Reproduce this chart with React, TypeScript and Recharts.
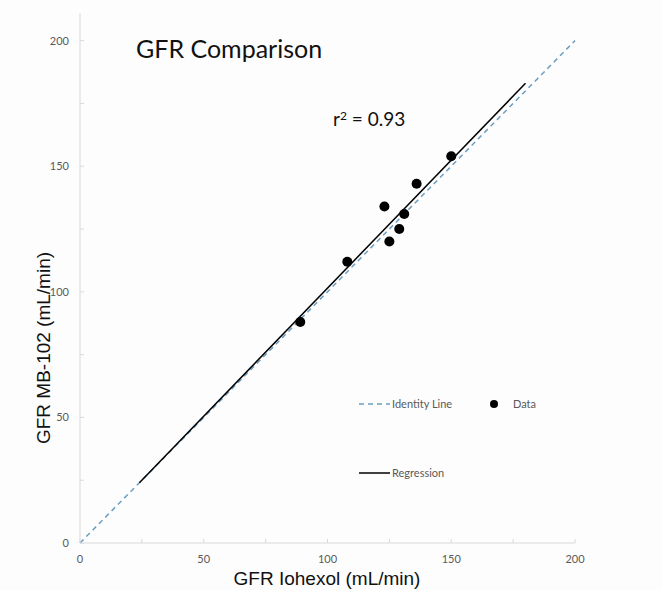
import { ComposedChart, Scatter, XAxis, YAxis, Legend } from 'recharts'

const tickValues = [0, 25, 50, 75, 100, 125, 150, 175, 200]
const iohexol = [89, 108, 123, 125, 129, 131, 136, 150]
const mb102 = [88, 112, 134, 120, 125, 131, 143, 154]
const identityX = [0, 200]
const identityY = [0, 200]
const regressionX = [24, 180]
const regressionY = [24, 183]

const zip = (xs: number[], ys: number[]) => xs.map((x, i) => ({ x, y: ys[i] }))
const points = zip(iohexol, mb102)
const identity = zip(identityX, identityY)
const regression = zip(regressionX, regressionY)

const AXIS = '#d9d9d9'
const TICK_TEXT = '#595959'
const IDENTITY = '#6b9ec0'
const SANS = 'Lato, "Open Sans", sans-serif'
const ARIAL = '"Liberation Sans", Arial, sans-serif'

function XTick({ x, y, payload }: any) {
  const v = payload.value
  return (
    <g>
      <line x1={x} y1={y} x2={x} y2={y - 4} stroke={AXIS} />
      {v % 50 === 0 && (
        <text x={x} y={y + 20} textAnchor="middle" fontSize={11} fill={TICK_TEXT} fontFamily={SANS}>
          {v}
        </text>
      )}
    </g>
  )
}

function YTick({ x, y, payload }: any) {
  const v = payload.value
  return (
    <g>
      <line x1={x} y1={y} x2={x + 4} y2={y} stroke={AXIS} />
      {v % 50 === 0 && (
        <text x={x - 11} y={y + 4} textAnchor="end" fontSize={11} fill={TICK_TEXT} fontFamily={SANS}>
          {v}
        </text>
      )}
    </g>
  )
}

const noDot = () => <g />
const blackDot = (p: any) => <circle cx={p.cx} cy={p.cy} r={5} fill="#000" />

function LegendBox() {
  const label = { position: 'absolute' as const, fontSize: 11, color: TICK_TEXT, fontFamily: SANS, lineHeight: '20px' }
  return (
    <div style={{ position: 'relative', width: 200, height: 100 }}>
      <svg width={34} height={20} style={{ position: 'absolute', left: 4, top: 0 }}>
        <line x1={0} y1={10} x2={31} y2={10} stroke={IDENTITY} strokeWidth={1.5} strokeDasharray="5 4" />
      </svg>
      <span style={{ ...label, left: 37, top: 0 }}>Identity Line</span>
      <svg width={12} height={20} style={{ position: 'absolute', left: 133, top: 0 }}>
        <circle cx={6} cy={10} r={4} fill="#000" />
      </svg>
      <span style={{ ...label, left: 158, top: 0 }}>Data</span>
      <svg width={34} height={20} style={{ position: 'absolute', left: 4, top: 69 }}>
        <line x1={0} y1={10} x2={31} y2={10} stroke="#000" strokeWidth={1.5} />
      </svg>
      <span style={{ ...label, left: 37, top: 69 }}>Regression</span>
    </div>
  )
}

export default function App() {
  return (
    <div style={{ position: 'absolute', left: 0, top: 0, width: 662, height: 590, background: '#fdfdfd' }}>
      <ComposedChart width={662} height={590} margin={{ top: 13, right: 87, bottom: 17, left: 30 }}>
        <XAxis
          type="number"
          dataKey="x"
          domain={[0, 200]}
          ticks={tickValues}
          interval={0}
          height={30}
          tickSize={0}
          tickMargin={0}
          tickLine={false}
          axisLine={{ stroke: AXIS }}
          tick={<XTick />}
        />
        <YAxis
          type="number"
          dataKey="y"
          domain={[0, 211]}
          ticks={tickValues}
          interval={0}
          width={50}
          tickSize={0}
          tickMargin={0}
          tickLine={false}
          axisLine={{ stroke: AXIS }}
          tick={<YTick />}
        />
        <Scatter
          name="Identity Line"
          data={identity}
          line={{ stroke: IDENTITY, strokeWidth: 1.5, strokeDasharray: '5 4' }}
          shape={noDot}
          fill={IDENTITY}
          isAnimationActive={false}
        />
        <Scatter
          name="Regression"
          data={regression}
          line={{ stroke: '#000', strokeWidth: 1.5 }}
          shape={noDot}
          fill="#000"
          isAnimationActive={false}
        />
        <Scatter name="Data" data={points} shape={blackDot} fill="#000" isAnimationActive={false} />
        <Legend
          layout="horizontal"
          verticalAlign="middle"
          content={<LegendBox />}
          wrapperStyle={{ left: 355, top: 394, width: 200, height: 100 }}
        />
      </ComposedChart>
      <div style={{ position: 'absolute', left: 136, top: 36, fontSize: 25, fontFamily: SANS, color: '#111', lineHeight: 1 }}>
        GFR Comparison
      </div>
      <div style={{ position: 'absolute', left: 333, top: 109, fontSize: 19, fontFamily: SANS, color: '#111', lineHeight: 1 }}>
        r<sup style={{ fontSize: 12, verticalAlign: 6 }}>2</sup> = 0.93
      </div>
      <div
        style={{
          position: 'absolute', left: 327, top: 578, transform: 'translate(-50%, -50%)',
          fontSize: 19, fontFamily: ARIAL, color: '#111', whiteSpace: 'nowrap', lineHeight: 1,
        }}
      >
        GFR Iohexol (mL/min)
      </div>
      <div
        style={{
          position: 'absolute', left: 43, top: 348, transform: 'translate(-50%, -50%) rotate(-90deg)',
          fontSize: 19, fontFamily: ARIAL, color: '#111', whiteSpace: 'nowrap', lineHeight: 1,
        }}
      >
        GFR MB-102 (mL/min)
      </div>
    </div>
  )
}
